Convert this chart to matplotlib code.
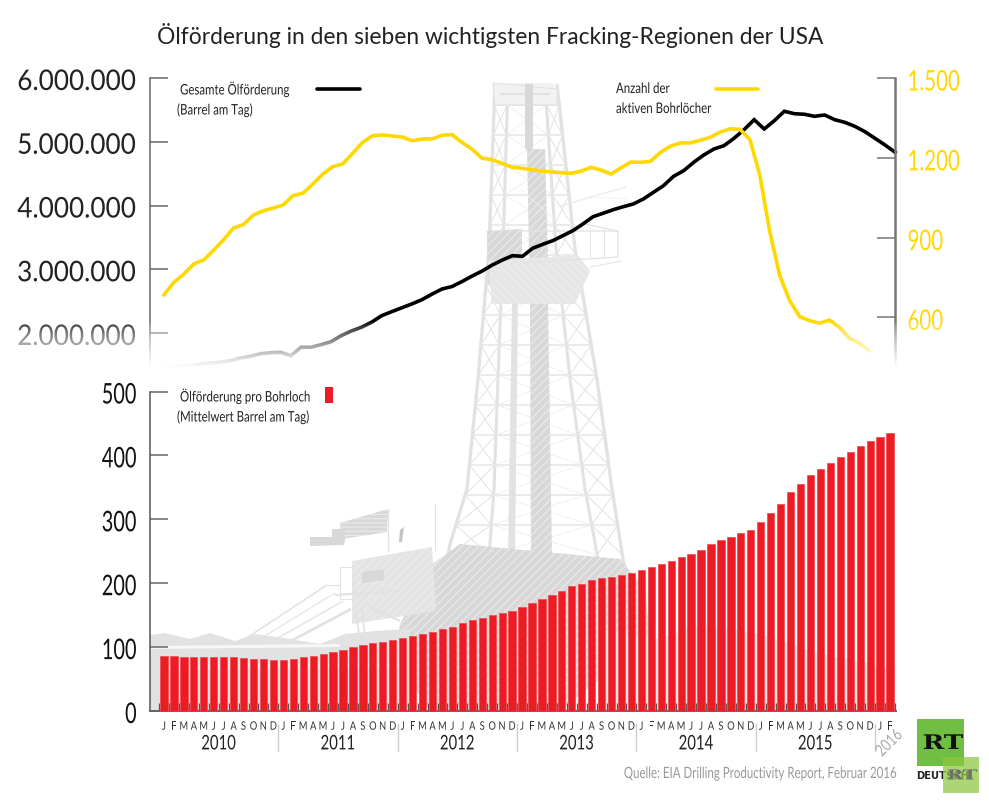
import numpy as np
import matplotlib
matplotlib.use("Agg")
import matplotlib.pyplot as plt
from matplotlib.patches import Polygon, Rectangle
from matplotlib.patheffects import AbstractPathEffect
from matplotlib.ticker import FuncFormatter
from matplotlib.transforms import Affine2D

W, H = 989, 804
LATO = ["Lato", "DejaVu Sans"]
SERIF = ["DejaVu Serif"]
plt.rcParams["hatch.linewidth"] = 0.7

title = "Ölförderung in den sieben wichtigsten Fracking-Regionen der USA"
source = "Quelle: EIA Drilling Productivity Report, Februar 2016"
months = list("JFMAMJJASOND") * 6 + list("JF")
years = ["2010", "2011", "2012", "2013", "2014", "2015"]

oil_total = [1424, 1456, 1478, 1482, 1509, 1525, 1540, 1566, 1608, 1635, 1675, 1691, 1697, 1644, 1776, 1776,
             1817, 1864, 1958, 2031, 2090, 2168, 2271, 2334, 2395, 2455, 2522, 2609, 2690, 2729, 2808, 2894,
             2973, 3067, 3145, 3213, 3203, 3329, 3391, 3448, 3526, 3605, 3710, 3824, 3878, 3934, 3981, 4024,
             4102, 4207, 4311, 4458, 4546, 4678, 4792, 4886, 4938, 5054, 5189, 5346, 5200, 5330, 5478, 5440,
             5431, 5399, 5420, 5346, 5305, 5242, 5158, 5054, 4949, 4835]
oil_total = [v * 1000 for v in oil_total]

rigs = [685, 732, 763, 801, 816, 853, 892, 936, 949, 985, 1001, 1011, 1023, 1058, 1067, 1102,
        1139, 1167, 1177, 1217, 1258, 1283, 1286, 1282, 1278, 1264, 1271, 1271, 1285, 1287, 1258, 1233,
        1199, 1193, 1180, 1165, 1161, 1155, 1150, 1147, 1144, 1142, 1150, 1164, 1154, 1139, 1162, 1184,
        1183, 1187, 1221, 1244, 1256, 1256, 1266, 1277, 1297, 1309, 1307, 1268, 1133, 920, 757, 663,
        603, 588, 578, 590, 563, 522, 503, 475]

per_well = [86.5, 85.4, 85, 85, 85, 85, 85, 85, 83, 82, 81, 80, 80, 82, 84, 86.5,
            89.6, 92.7, 96, 100, 104, 106, 108, 111, 114, 118, 121, 124, 128, 132, 137, 142,
            146, 149.5, 153, 157, 162.5, 169, 175.5, 182, 188, 195, 199.5, 205, 208, 210, 213, 216.6,
            220, 225.5, 230, 235, 241, 246, 252.6, 261, 267, 272, 278, 284, 295, 310, 324.5, 342,
            356, 369, 379, 388, 397, 406, 414, 422, 429, 435]

BLACK = "#000000"
YELLOW = "#FFD800"
RED = "#ED1C24"
RIG = "#e2e2e2"
RIG_D = "#d8d8d8"


class Squeeze(AbstractPathEffect):
    """Condense glyphs horizontally, as no condensed family is installed."""

    def __init__(self, sx, pivot=0.0, dy=0.0):
        super().__init__()
        self.sx, self.pivot, self.dy = sx, pivot, dy

    def draw_path(self, renderer, gc, tpath, affine, rgbFace=None):
        w = tpath.vertices[:, 0].max() if len(tpath.vertices) else 0
        p = w * self.pivot
        renderer.draw_path(gc, tpath,
                           Affine2D().translate(-p, 0).scale(self.sx, 1).translate(p, 0) + affine
                           + Affine2D().translate(0, self.dy),
                           rgbFace)


def rect(x0, y0, x1, y1):
    return [x0 / W, 1 - y1 / H, (x1 - x0) / W, (y1 - y0) / H]


fig = plt.figure(figsize=(W / 100, H / 100), dpi=100, facecolor="white")

# ---- background sketch of the rig, full-figure pixel axes ----
bg = fig.add_axes([0, 0, 1, 1], zorder=0)
bg.set_xlim(0, W)
bg.set_ylim(H, 0)
bg.axis("off")


def seg(pts, lw=1.0, c=RIG):
    xs, ys = zip(*pts)
    bg.plot(xs, ys, color=c, lw=lw, solid_capstyle="butt", zorder=1)


def poly(pts, c=RIG, hatch=None, z=1):
    bg.add_patch(Polygon(pts, closed=True, facecolor=c, edgecolor="#eeeeee" if hatch else "none",
                         hatch=hatch, lw=0, zorder=z))


ly = [85, 250, 380, 490, 545, 570]
lx = [495, 489, 478, 467, 450, 446]
ry = [85, 250, 380, 490, 560, 570]
rx = [557, 575, 597, 612, 623, 625]
lix = [508, 503, 498, 494, 490, 488]
rix = [545, 556, 570, 585, 598, 600]
seg(list(zip(lx, ly)), lw=2.4)
seg(list(zip(rx, ry)), lw=2.4)
seg(list(zip(lix, ly)), lw=2.2)
seg(list(zip(rix, ry)), lw=2.2)
levels = list(range(106, 560, 30))
for a, b in zip(levels[:-1], levels[1:]):
    la, lb = np.interp(a, ly, lx), np.interp(b, ly, lx)
    ra, rb = np.interp(a, ry, rx), np.interp(b, ry, rx)
    ia, ib = np.interp(a, ly, lix), np.interp(b, ly, lix)
    ja, jb = np.interp(a, ry, rix), np.interp(b, ry, rix)
    seg([(la, a), (ra, a)], lw=1.2, c="#e8e8e8")
    seg([(la, a), (ib, b)], lw=0.7)
    seg([(ia, a), (lb, b)], lw=0.7)
    seg([(ra, a), (jb, b)], lw=0.7)
    seg([(ja, a), (rb, b)], lw=0.7)
    seg([(ia, a), (jb, b)], lw=0.5, c="#ebebeb")
    seg([(ja, a), (ib, b)], lw=0.5, c="#ebebeb")
# crown
poly([(493, 84), (553, 84), (558, 92), (556, 106), (495, 106)], c="#f2f2f2")
seg([(493, 84), (557, 90), (557, 106), (495, 106), (493, 84)], lw=0.8)
seg([(500, 95), (550, 95)], lw=1.6)
# central column
poly([(525, 85), (533, 85), (533, 150), (525, 150)], c=RIG_D)
poly([(527, 150), (545, 150), (549, 300), (530, 300)], c=RIG_D, hatch="////")
poly([(530, 300), (548, 300), (552, 560), (531, 560)], c=RIG_D, hatch="////")
poly([(512, 300), (518, 300), (515, 560), (508, 560)], c=RIG)
# mid platform
poly([(487, 232), (522, 230), (522, 285), (488, 285)], c=RIG_D, hatch="////")
poly([(488, 262), (578, 256), (590, 272), (575, 305), (492, 305)], c="#e6e6e6", hatch="\\\\\\\\")
seg([(520, 232), (618, 232), (618, 258), (524, 264)], lw=0.9)
seg([(585, 225), (618, 232)], lw=0.9)
seg([(590, 228), (590, 258)], lw=0.7)
seg([(604, 230), (604, 258)], lw=0.7)
seg([(590, 268), (622, 262)], lw=0.7)
# thin stays
seg([(585, 198), (628, 200)], lw=0.5, c="#f0f0f0")
seg([(560, 207), (626, 188)], lw=1.0, c="#ebebeb")
seg([(555, 220), (520, 190)], lw=0.5, c="#f0f0f0")
# substructure
poly([(430, 567), (460, 545), (620, 560), (645, 590), (650, 640), (560, 712), (430, 712), (395, 660), (400, 625)],
     c=RIG_D, hatch="////")
poly([(352, 562), (432, 548), (436, 612), (352, 625)], c="#e4e4e4", hatch="////")
poly([(362, 573), (384, 570), (384, 581), (362, 584)], c=RIG_D)
seg([(340, 568), (352, 568), (352, 600), (340, 600), (340, 568)], lw=0.7)
seg([(335, 596), (400, 592)], lw=1.6)
# stairs
for dy_, lw_ in ((0, 1.2), (8, 0.8), (16, 1.0), (24, 2.0)):
    seg([(245 + dy_ * 0.2, 640 + dy_), (327 + dy_, 586 + dy_)], lw=lw_)
seg([(327, 586), (340, 586), (340, 600)], lw=0.8)
# flags
poly([(340, 524), (388, 510), (387, 533), (342, 540)], c=RIG_D, hatch="----")
poly([(310, 538), (332, 538), (332, 530), (345, 530), (345, 541), (344, 546), (310, 547)], c=RIG_D)
seg([(388, 510), (388, 553)], lw=1.0)
seg([(435, 505), (435, 552)], lw=0.8)
poly([(400, 531), (404, 528), (402, 543), (399, 543)], c="#c4c4c4")
seg([(355, 610), (360, 640)], lw=1.3)
seg([(362, 610), (365, 640)], lw=1.3)
seg([(365, 605), (400, 622)], lw=1.6)
# ground, tree line
poly([(150, 636), (165, 634), (190, 640), (210, 634), (235, 642), (255, 635), (290, 640), (320, 645),
      (345, 635), (375, 632), (410, 630), (410, 712), (150, 712)], c=RIG)
poly([(150, 647), (340, 645), (340, 648), (150, 650)], c="#f7f7f7", z=2)
poly([(160, 666), (400, 664), (400, 668), (160, 670)], c="#eeeeee", z=2)
poly([(600, 630), (660, 640), (700, 625), (760, 635), (820, 655), (895, 670), (895, 712), (600, 712)], c="#e8e8e8")

# ---- upper chart ----
TOP_RECT = (149.5, 79, 895, 378)
ax_l = fig.add_axes(rect(*TOP_RECT), zorder=2)
ax_l.patch.set_alpha(0)
# black line sits on its own monthly scale: month 0 at x=160 px, 10.07 px per month
ax_l.set_xlim((149.5 - 160) / 10.07, (895 - 160) / 10.07)
ax_l.set_ylim(6000000 - 299 * 15686, 6000000)
ax_l.plot(range(len(oil_total)), oil_total, color=BLACK, lw=2.6, solid_joinstyle="miter", clip_on=False, zorder=4)
ax_l.set_yticks([2000000, 3000000, 4000000, 5000000, 6000000])
ax_l.yaxis.set_major_formatter(FuncFormatter(lambda v, p: f"{int(v):,}".replace(",", ".")))
ax_l.set_xticks([])
ax_l.tick_params(axis="y", direction="in", length=13, width=1.1, color="#666666", pad=9,
                 labelsize=20.5, labelcolor="#222222")
for t in ax_l.get_yticklabels():
    t.set_family(LATO)
    t.set_path_effects([Squeeze(0.92, 1.0, -1.5)])
for s in ("top", "right", "bottom"):
    ax_l.spines[s].set_visible(False)
ax_l.spines["left"].set_color("#666666")
ax_l.spines["left"].set_linewidth(1.1)

ax_r = fig.add_axes(rect(*TOP_RECT), zorder=3)
ax_r.patch.set_alpha(0)
ax_r.set_xlim(-1.458, 73.6)
ax_r.set_ylim(1500 - 299 * 3.759, 1500)
ax_r.plot(range(len(rigs)), rigs, color=YELLOW, lw=2.6, solid_joinstyle="miter", zorder=3)
ax_r.yaxis.tick_right()
ax_r.set_yticks([600, 900, 1200, 1500])
ax_r.yaxis.set_major_formatter(FuncFormatter(lambda v, p: f"{int(v):,}".replace(",", ".")))
ax_r.set_xticks([])
ax_r.tick_params(axis="y", direction="in", length=13, width=1.1, color="#777777", pad=9,
                 labelsize=20.5, labelcolor=YELLOW)
for t in ax_r.get_yticklabels():
    t.set_family(LATO)
    t.set_path_effects([Squeeze(0.72, 0.0, -2.0)])
for s in ("top", "left", "bottom"):
    ax_r.spines[s].set_visible(False)
ax_r.spines["right"].set_color("#777777")
ax_r.spines["right"].set_linewidth(1.8)

# ---- lower chart ----
ax_b = fig.add_axes(rect(149.5, 392.5, 896, 712), zorder=2)
ax_b.patch.set_alpha(0)
ax_b.bar(range(len(per_well)), per_well, width=0.73, color=RED, edgecolor="#F0474E", linewidth=0.5, zorder=3)
ax_b.set_xlim(-1.458, 73.6)
ax_b.set_ylim(0, 500)
ax_b.set_yticks([0, 100, 200, 300, 400, 500])
ax_b.tick_params(axis="y", direction="in", length=13, width=1.1, color="#666666", pad=9,
                 labelsize=20.5, labelcolor="#111111")
for t in ax_b.get_yticklabels():
    t.set_family(LATO)
    t.set_path_effects([Squeeze(0.70, 1.0, -1.5)])
ax_b.set_xticks(range(len(months)), months)
ax_b.tick_params(axis="x", which="major", length=0, pad=7, labelsize=8.4, labelcolor="#333333")
for t in ax_b.get_xticklabels():
    t.set_family(LATO)
    t.set_path_effects([Squeeze(0.8, 0.5)])
ax_b.set_xticks(np.arange(-0.5, len(months) + 0.5), minor=True)
ax_b.tick_params(axis="x", which="minor", direction="in", length=5.6, width=0.9, color="#555555")
for s in ("top", "right"):
    ax_b.spines[s].set_visible(False)
ax_b.spines["left"].set_color("#555555")
ax_b.spines["left"].set_linewidth(1.1)
ax_b.spines["bottom"].set_color("#666666")
ax_b.spines["bottom"].set_linewidth(1.4)

trans = ax_b.get_xaxis_transform()
for k, yr in enumerate(years):
    ax_b.text(12 * k + 5.5, -0.103, yr, transform=trans, ha="center", va="center", family=LATO,
              fontsize=14.5, color="#222222", path_effects=[Squeeze(0.74, 0.5)])
    ax_b.plot([12 * k + 11.5] * 2, [-0.042, -0.126], transform=trans, color="#cccccc", lw=1, clip_on=False)
ax_b.text(72.9, -0.1, "2016", transform=trans, ha="center", va="center", rotation=45, family=LATO,
          fontsize=12, color="#aaaaaa", path_effects=[Squeeze(0.78, 0.5)])

# ---- fade of the upper chart towards the lower one ----
fx = fig.add_axes([0, 0, 1, 1], zorder=5)
fx.patch.set_alpha(0)
grad = np.ones((60, 2, 4))
grad[..., 3] = np.repeat(np.clip(np.linspace(0, 1.28, 60), 0, 1)[:, None] ** 0.7, 2, axis=1)
for ext in ((0, 450, 381, 322), (640, 989, 381, 322)):
    fx.imshow(grad, extent=ext, aspect="auto", interpolation="bilinear", origin="upper", zorder=1)
fx.set_xlim(0, W)
fx.set_ylim(H, 0)
fx.axis("off")

# ---- texts, legends and logo in pixel coordinates ----
fx.text(490, 35, title, ha="center", va="center", family=LATO, fontsize=16.4, color="#222222", zorder=3)


def note(x, y, s, sx=0.785):
    fx.text(x, y, s, ha="left", va="center", family=LATO, zorder=3, color="#222222", fontsize=10.5,
            path_effects=[Squeeze(sx, 0.0)])


note(180, 90, "Gesamte Ölförderung")
note(177, 111, "(Barrel am Tag)")
fx.plot([317, 360], [90, 90], color=BLACK, lw=2.6, solid_capstyle="round", zorder=3)
note(616, 90, "Anzahl der")
note(616, 110, "aktiven Bohrlöcher")
fx.plot([716, 758], [90, 90], color=YELLOW, lw=2.6, solid_capstyle="round", zorder=3)
note(180, 397, "Ölförderung pro Bohrloch")
note(177, 418, "(Mittelwert Barrel am Tag)")
fx.add_patch(Rectangle((325, 388), 7.5, 16, facecolor=RED, edgecolor="none", zorder=3))
fx.text(896, 775, source, ha="right", va="center", family=LATO, fontsize=11.2, color="#999999", zorder=3,
        path_effects=[Squeeze(0.74, 1.0)])

fx.add_patch(Rectangle((917, 720), 47, 47, facecolor="#70BF44", edgecolor="none", zorder=3))
fx.text(943, 744, "RT", ha="center", va="center", family=SERIF, fontweight="bold", fontsize=14.5,
        color="#111111", zorder=4, path_effects=[Squeeze(1.3, 0.5)])
fx.text(916, 776, "DEUTSCH", ha="left", va="center", family=["DejaVu Sans"], fontweight="bold",
        fontsize=7.2, color="#222222", zorder=4)
fx.add_patch(Rectangle((943, 758), 36, 36, facecolor="#8CC63F", alpha=0.72, edgecolor="none", zorder=5))
fx.text(962, 776.5, "RT", ha="center", va="center", family=SERIF, fontweight="bold", fontsize=10,
        color="#6f6f6f", zorder=6, path_effects=[Squeeze(1.4, 0.5)])

fig.savefig("out.png", dpi=100, facecolor="white")
